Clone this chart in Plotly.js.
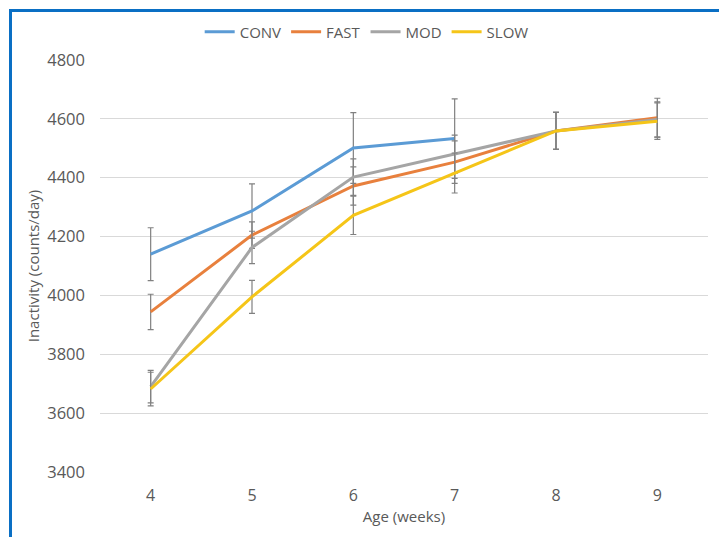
<!DOCTYPE html>
<html>
<head>
<meta charset="utf-8">
<script src="https://cdn.plot.ly/plotly-3.0.1.min.js"></script>
<style>
  html, body { margin: 0; padding: 0; background: #ffffff; }
  #wrap { position: relative; width: 719px; height: 537px; overflow: hidden; }
  #chart { position: absolute; left: 0; top: 0; width: 719px; height: 537px; }
  #frame { position: absolute; left: 9px; top: 9px; width: 800px; height: 700px;
           border: 3px solid #0A6FC4; pointer-events: none; box-sizing: border-box; }
</style>
</head>
<body>
<div id="wrap">
  <div id="chart"></div>
  <div id="frame"></div>
</div>
<script>
// Data
const ages = [4, 5, 6, 7, 8, 9];
const tickLabels = ['4', '5', '6', '7', '8', '9'];

const convAges = [4, 5, 6, 7];
const convValues = [4140, 4287, 4501, 4533];
const convErr = [90, 92, 120, 135];

const fastValues = [3944, 4205, 4372, 4453, 4559, 4604];
const fastErr = [60, 45, 65, 72, 63, 66];

const modValues = [3690, 4163, 4402, 4480, 4559, 4598];
const modErr = [55, 55, 62, 65, 63, 60];

const slowValues = [3682, 3995, 4272, 4416, 4559, 4592];
const slowErr = [57, 56, 65, 68, 63, 62];

const seriesNames = ['CONV', 'FAST', 'MOD', 'SLOW'];
const seriesColors = ['#5B9BD5', '#E8803D', '#A5A5A5', '#F5C518'];

function makeTrace(name, color, x, y, err) {
  return {
    type: 'scatter',
    mode: 'lines',
    name: name,
    x: x,
    y: y,
    line: { color: color, width: 3 },
    error_y: { type: 'data', array: err, visible: true, color: '#808080', thickness: 1.2, width: 3 }
  };
}

const data = [
  makeTrace(seriesNames[0], seriesColors[0], convAges, convValues, convErr),
  makeTrace(seriesNames[1], seriesColors[1], ages, fastValues, fastErr),
  makeTrace(seriesNames[2], seriesColors[2], ages, modValues, modErr),
  makeTrace(seriesNames[3], seriesColors[3], ages, slowValues, slowErr)
];

const fontFam = 'Open Sans, Noto Sans, sans-serif';
const txt = '#595959';
const layout = {
  width: 719,
  height: 537,
  margin: { l: 100, r: 11, t: 60, b: 65 },
  paper_bgcolor: '#ffffff',
  plot_bgcolor: '#ffffff',
  font: { family: fontFam, size: 15, color: txt },
  showlegend: true,
  legend: {
    orientation: 'h',
    x: 0.51, xanchor: 'center', xref: 'container',
    y: 1 - 32 / 537, yanchor: 'middle', yref: 'container',
    font: { family: fontFam, size: 15, color: txt },
    itemwidth: 30,
    tracegroupgap: 0,
    bgcolor: 'rgba(0,0,0,0)'
  },
  xaxis: {
    range: [3.5, 9.5],
    tickvals: ages,
    ticktext: tickLabels,
    showgrid: false,
    zeroline: false,
    showline: false,
    ticks: '',
    ticklabelstandoff: 12,
    tickfont: { family: fontFam, size: 16, color: txt },
    title: { text: 'Age (weeks)', font: { family: fontFam, size: 15, color: txt }, standoff: 6 }
  },
  yaxis: {
    range: [3400, 4800],
    dtick: 200,
    tick0: 3400,
    showgrid: true,
    gridcolor: '#D9D9D9',
    gridwidth: 1,
    zeroline: false,
    showline: false,
    ticks: '',
    ticklabelstandoff: 14,
    tickfont: { family: fontFam, size: 16.5, color: txt },
    title: { text: 'Inactivity (counts/day)', font: { family: fontFam, size: 15, color: txt }, standoff: 4 }
  }
};

Plotly.newPlot('chart', data, layout, { displayModeBar: false, staticPlot: true });
</script>
</body>
</html>
